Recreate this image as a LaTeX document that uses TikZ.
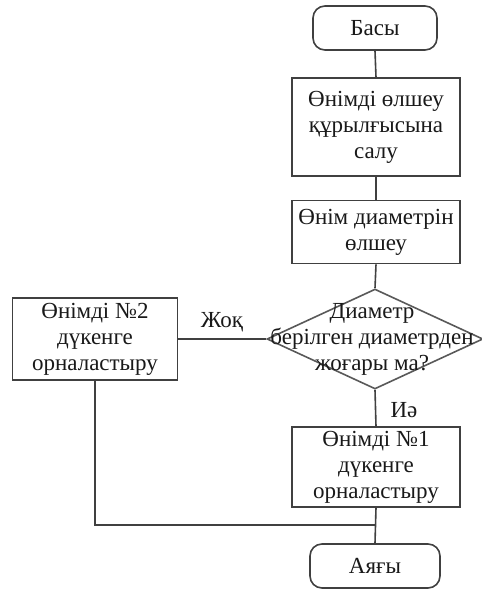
\documentclass[tikz,border=0pt]{standalone}
\usepackage{fontspec}
\setmainfont{Liberation Serif}
\usetikzlibrary{shapes.geometric}
\begin{document}
\begin{tikzpicture}[x=1pt,y=-1pt,
  every node/.style={font=\fontsize{23}{26}\selectfont, text=black!90},
  proc/.style={draw=black!75, line width=1.6pt, align=center, inner sep=0pt, fill=white},
  term/.style={draw=black!75, line width=1.6pt, rounded corners=12pt, inner sep=0pt, fill=white},
  dec/.style={draw=black!65, line width=1.6pt, diamond, inner sep=0pt, fill=white},
  conn/.style={draw=black!75, line width=1.6pt},
  lbl/.style={inner sep=1pt}]
\useasboundingbox (0,0) rectangle (482,590);
\node[term, minimum width=124pt, minimum height=44pt] (start) at (375,28) {Басы};
\node[proc, minimum width=168pt, minimum height=98pt] (b1) at (376,127) {Өнімді өлшеу\\құрылғысына\\салу};
\node[proc, minimum width=168pt, minimum height=63pt] (b2) at (376,232) {Өнім диаметрін\\өлшеу};
\node[dec, minimum width=216pt, minimum height=100pt] (dia) at (375,339) {};
\node[align=center, inner sep=0pt] (diat) at (372,339) {Диаметр\\берілген диаметрден\\жоғары ма?};
\node[proc, minimum width=165pt, minimum height=82pt] (left) at (95,339) {Өнімді №2\\дүкенге\\орналастыру};
\node[proc, minimum width=168pt, minimum height=80pt] (b3) at (376,467) {Өнімді №1\\дүкенге\\орналастыру};
\node[term, minimum width=130pt, minimum height=44pt] (end) at (375,566) {Аяғы};
\coordinate (m) at (376,525);
\draw[conn] (start.south) -- (b1.north);
\draw[conn] (b1.south) -- (b2.north);
\draw[conn] (b2.south) -- (dia.north);
\draw[conn] (dia.south) -- (b3.north);
\draw[conn] (b3.south) -- (end.north);
\draw[conn] (dia.west) -- (left.east);
\draw[conn] (left.south) |- (m);
\node[lbl] (no) at (222,322) {Жоқ};
\node[lbl] (yes) at (404,410) {Иә};
\end{tikzpicture}
\end{document}
